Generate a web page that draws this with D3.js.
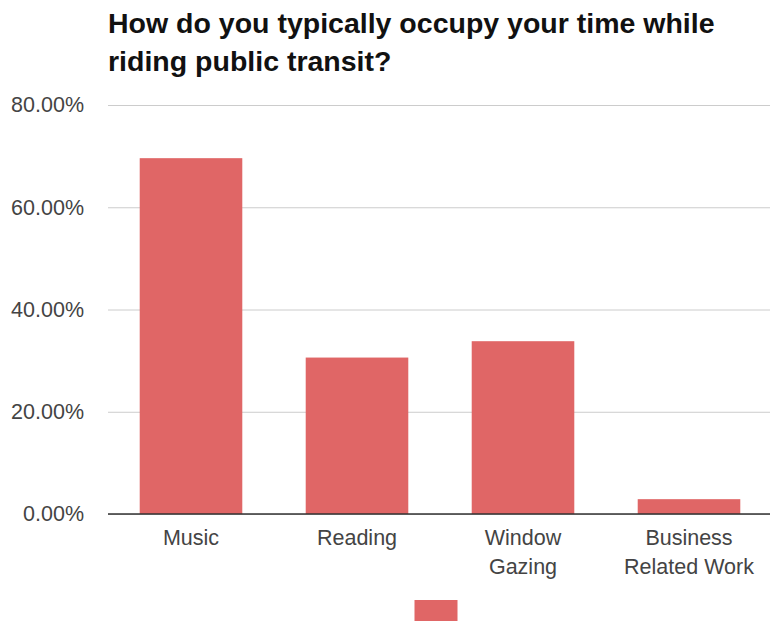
<!DOCTYPE html>
<html>
<head>
<meta charset="utf-8">
<script src="https://cdn.jsdelivr.net/npm/d3@7"></script>
<style>
  body { margin: 0; background: #fff; }
  svg { display: block; font-family: "Liberation Sans", Arial, sans-serif; }
</style>
</head>
<body>
<svg id="chart"></svg>
<script>
const titleLines = ["How do you typically occupy your time while", "riding public transit?"];
const categories = ["Music", "Reading", "Window Gazing", "Business Related Work"];
const categoryLines = [["Music"], ["Reading"], ["Window", "Gazing"], ["Business", "Related Work"]];
const values = [0.696, 0.306, 0.338, 0.029];
const yTicks = [0, 0.2, 0.4, 0.6, 0.8];
const barColor = "#e06666";

const width = 770, height = 622;
const plot = { left: 108, right: 772, top: 105, bottom: 514 };

const svg = d3.select("#chart")
    .attr("width", width)
    .attr("height", height)
    .attr("viewBox", `0 0 ${width} ${height}`);

// title
svg.append("text")
    .attr("x", plot.left)
    .attr("y", 33)
    .attr("font-size", 28.5)
    .attr("font-weight", "bold")
    .attr("fill", "#111")
    .selectAll("tspan")
    .data(titleLines)
    .join("tspan")
    .attr("x", plot.left)
    .attr("dy", (d, i) => i === 0 ? 0 : 38)
    .text(d => d);

const x = d3.scaleBand()
    .domain(categories)
    .range([plot.left, plot.right])
    .paddingInner(0.382)
    .paddingOuter(0.191);

const y = d3.scaleLinear()
    .domain([0, 0.8])
    .range([plot.bottom, plot.top]);

// gridlines + y labels
const yAxis = svg.append("g")
    .attr("transform", `translate(${plot.left},0)`)
    .call(d3.axisLeft(y)
        .tickValues(yTicks)
        .tickFormat(d3.format(".2%"))
        .tickSizeInner(-(plot.right - plot.left))
        .tickSizeOuter(0)
        .tickPadding(24));
yAxis.select(".domain").remove();
yAxis.selectAll(".tick line").attr("stroke", "#cccccc");
yAxis.selectAll(".tick text")
    .attr("font-size", 21.5)
    .attr("font-family", "\"Liberation Sans\", Arial, sans-serif")
    .attr("fill", "#444");

// bars
svg.append("g")
    .selectAll("rect")
    .data(values)
    .join("rect")
    .attr("x", (d, i) => x(categories[i]))
    .attr("y", d => y(d))
    .attr("width", x.bandwidth())
    .attr("height", d => y(0) - y(d))
    .attr("fill", barColor);

// baseline
svg.append("line")
    .attr("x1", plot.left)
    .attr("x2", plot.right)
    .attr("y1", y(0))
    .attr("y2", y(0))
    .attr("stroke", "#333")
    .attr("stroke-width", 1.5);

// x labels
const xAxis = svg.append("g")
    .attr("transform", `translate(0,${y(0)})`)
    .call(d3.axisBottom(x).tickSize(0).tickFormat(""));
xAxis.select(".domain").remove();
xAxis.selectAll(".tick").each(function (d, i) {
    const t = d3.select(this).append("text")
        .attr("y", 31)
        .attr("text-anchor", "middle")
        .attr("font-size", 21.5)
        .attr("font-family", "\"Liberation Sans\", Arial, sans-serif")
        .attr("fill", "#444");
    t.selectAll("tspan")
        .data(categoryLines[i])
        .join("tspan")
        .attr("x", 0)
        .attr("dy", (l, j) => j === 0 ? 0 : 29)
        .text(l => l);
});

// legend swatch (series has no name)
const legendX = (plot.left + plot.right) / 2 - 4;
svg.append("rect")
    .attr("x", legendX - 21.5)
    .attr("y", 600)
    .attr("width", 43)
    .attr("height", 21)
    .attr("fill", barColor);
</script>
</body>
</html>
